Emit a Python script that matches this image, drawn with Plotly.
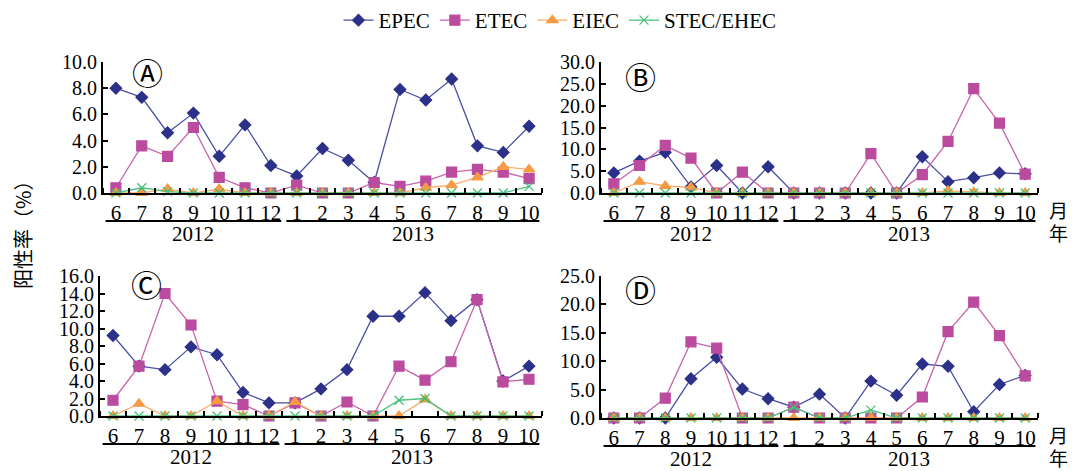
import plotly.graph_objects as go

# ---------------- data ----------------
months = [6, 7, 8, 9, 10, 11, 12, 1, 2, 3, 4, 5, 6, 7, 8, 9, 10]
years = [2012] * 7 + [2013] * 10
series_names = ["EPEC", "ETEC", "EIEC", "STEC/EHEC"]

epec_a = [8.0, 7.3, 4.6, 6.1, 2.8, 5.2, 2.1, 1.3, 3.4, 2.5, 0.8, 7.9, 7.1, 8.7, 3.6, 3.1, 5.1]
etec_a = [0.4, 3.6, 2.8, 5.0, 1.2, 0.4, 0.0, 0.6, 0.0, 0.0, 0.8, 0.5, 0.9, 1.6, 1.8, 1.6, 1.1]
eiec_a = [0.0, 0.0, 0.3, 0.0, 0.3, 0.0, 0.0, 0.0, 0.0, 0.0, 0.0, 0.0, 0.4, 0.6, 1.2, 2.0, 1.8]
stec_a = [0.0, 0.4, 0.1, 0.0, 0.0, 0.0, 0.0, 0.0, 0.0, 0.0, 0.0, 0.0, 0.0, 0.0, 0.0, 0.0, 0.5]

epec_b = [4.6, 7.3, 9.3, 1.4, 6.3, 0.0, 6.0, 0.0, 0.0, 0.0, 0.0, 0.0, 8.3, 2.6, 3.5, 4.6, 4.4]
etec_b = [2.1, 6.3, 10.9, 8.0, 0.0, 4.8, 0.0, 0.0, 0.0, 0.0, 9.0, 0.0, 4.2, 11.8, 23.9, 16.0, 4.3]
eiec_b = [0.0, 2.6, 1.6, 1.3, 0.0, 0.0, 0.0, 0.0, 0.0, 0.0, 0.0, 0.0, 0.0, 0.5, 0.2, 0.0, 0.0]
stec_b = [0.0] * 17

epec_c = [9.2, 5.7, 5.3, 7.9, 7.0, 2.7, 1.5, 1.5, 3.1, 5.3, 11.4, 11.4, 14.1, 10.9, 13.3, 4.0, 5.7]
etec_c = [1.8, 5.7, 14.0, 10.4, 1.7, 1.3, 0.0, 1.5, 0.0, 1.6, 0.0, 5.7, 4.1, 6.2, 13.3, 3.9, 4.2]
eiec_c = [0.0, 1.4, 0.0, 0.0, 1.7, 0.0, 0.0, 1.6, 0.0, 0.0, 0.0, 0.0, 1.9, 0.0, 0.0, 0.0, 0.0]
stec_c = [0.0, 0.0, 0.0, 0.0, 0.0, 0.0, 0.0, 0.0, 0.0, 0.0, 0.0, 1.8, 2.0, 0.0, 0.0, 0.0, 0.0]

epec_d = [0.0, 0.0, 0.0, 6.9, 10.7, 5.1, 3.4, 1.9, 4.2, 0.0, 6.5, 4.0, 9.5, 9.1, 1.1, 5.9, 7.5]
etec_d = [0.0, 0.0, 3.5, 13.4, 12.3, 0.0, 0.0, 1.9, 0.0, 0.0, 0.0, 0.0, 3.7, 15.2, 20.4, 14.5, 7.4]
eiec_d = [0.0] * 17
stec_d = [0.0, 0.0, 0.0, 0.0, 0.0, 0.0, 0.0, 1.9, 0.0, 0.0, 1.4, 0.0, 0.0, 0.0, 0.0, 0.0, 0.0]

panel_labels = ["Ⓐ", "Ⓑ", "Ⓒ", "Ⓓ"]
y_max = [10, 30, 16, 25]
y_step = [2, 5, 2, 5]
y_title = "阳性率（%）"
month_word = "月"
year_word = "年"

# ---------------- style ----------------
W, H = 1072, 471
SERIF = "Liberation Serif, Times New Roman, serif"
CJK = "Noto Sans CJK SC, Noto Sans CJK JP, sans-serif"
colors = ["#2b3088", "#bb4b9f", "#f59b45", "#3fbf74"]
line_colors = ["#4a50a6", "#c864ad", "#f7ae6a", "#4cc482"]
symbols = ["diamond", "square", "triangle-up", "x-thin"]
msize = [9, 10, 10, 9]
XFONT = dict(family=SERIF, size=21, color="black")
YFONT = dict(family=SERIF, size=20, color="black")

def px_x(p):
    return p / W

def px_y(p):
    return 1 - p / H

# panel geometry in pixels: (x0, x1, ytop, ybottom)
geom = [
    (103, 542, 62, 193),
    (601, 1038, 62, 193),
    (100, 542, 276, 416),
    (601, 1038, 276, 418),
]

data = [
    [epec_a, etec_a, eiec_a, stec_a],
    [epec_b, etec_b, eiec_b, stec_b],
    [epec_c, etec_c, eiec_c, stec_c],
    [epec_d, etec_d, eiec_d, stec_d],
]

n = len(months)
xpos = list(range(n))

fig = go.Figure()

for p in range(4):
    xa = "x" if p == 0 else f"x{p+1}"
    ya = "y" if p == 0 else f"y{p+1}"
    for s in range(4):
        fig.add_trace(go.Scatter(
            x=xpos, y=data[p][s], mode="lines+markers",
            name=series_names[s], showlegend=(p == 0),
            line=dict(color=line_colors[s], width=1.3),
            marker=dict(symbol=symbols[s], size=msize[s], color=colors[s],
                        line=dict(color=colors[s], width=1.2)),
            cliponaxis=False, xaxis=xa, yaxis=ya,
        ))

layout = dict()
for p in range(4):
    x0, x1, yt, yb = geom[p]
    xk = "xaxis" if p == 0 else f"xaxis{p+1}"
    yk = "yaxis" if p == 0 else f"yaxis{p+1}"
    ya = "y" if p == 0 else f"y{p+1}"
    xa = "x" if p == 0 else f"x{p+1}"
    layout[xk] = dict(
        domain=[px_x(x0), px_x(x1)], anchor=ya,
        range=[-0.5, n - 0.5], tickmode="array", tickvals=xpos,
        ticktext=[str(m) for m in months], ticks="",
        ticklabelstandoff=0,
        showline=True, linecolor="black", linewidth=2,
        showgrid=False, zeroline=False, fixedrange=True,
        tickfont=XFONT,
        minor=dict(tickmode="array", tickvals=[i - 0.5 for i in range(n + 1)],
                   ticks="inside", ticklen=5, tickwidth=1.5, tickcolor="black",
                   showgrid=False),
    )
    layout[yk] = dict(
        domain=[px_y(yb), px_y(yt)], anchor=xa,
        range=[0, y_max[p]], dtick=y_step[p], tick0=0, tickformat=".1f",
        ticks="inside", ticklen=5, tickwidth=1.5, tickcolor="black",
        showline=True, linecolor="black", linewidth=1.8,
        showgrid=False, zeroline=False, fixedrange=True,
        tickfont=YFONT,
    )

fig.update_layout(**layout)

shapes = []
annotations = []
# year groups: underline + label
for p in range(4):
    x0, x1, yt, yb = geom[p]
    xa = "x" if p == 0 else f"x{p+1}"
    line_y = yb + 28
    lab_y = yb + 41
    for yr in sorted(set(years)):
        idx = [i for i, v in enumerate(years) if v == yr]
        a, b = idx[0] - 0.4, idx[-1] + 0.4
        shapes.append(dict(type="line", xref=xa, yref="paper",
                           x0=a, x1=b, y0=px_y(line_y), y1=px_y(line_y),
                           line=dict(color="black", width=2)))
        annotations.append(dict(xref=xa, yref="paper", x=(idx[0] + idx[-1]) / 2,
                                y=px_y(lab_y), text=str(yr), showarrow=False,
                                font=XFONT,
                                xanchor="center", yanchor="middle"))

# panel letters
letter_pos = [(147, 72), (640, 76), (146, 283), (640, 288)]
for p in range(4):
    lx, ly = letter_pos[p]
    annotations.append(dict(xref="paper", yref="paper", x=px_x(lx), y=px_y(ly),
                            text=panel_labels[p], showarrow=False,
                            font=dict(family=CJK, size=31, color="black"),
                            xanchor="center", yanchor="middle"))

# month / year words at right
for yb in (geom[1][3], geom[3][3]):
    annotations.append(dict(xref="paper", yref="paper", x=px_x(1047), y=px_y(yb + 16),
                            text=month_word, showarrow=False,
                            font=dict(family=CJK, size=19, color="black"),
                            xanchor="left", yanchor="middle"))
    annotations.append(dict(xref="paper", yref="paper", x=px_x(1047), y=px_y(yb + 39),
                            text=year_word, showarrow=False,
                            font=dict(family=CJK, size=19, color="black"),
                            xanchor="left", yanchor="middle"))

# y title
annotations.append(dict(xref="paper", yref="paper", x=px_x(22), y=px_y(230),
                        text=y_title, textangle=-90, showarrow=False,
                        font=dict(family=CJK, size=20, color="black"),
                        xanchor="center", yanchor="middle"))

fig.update_layout(
    width=W, height=H,
    margin=dict(l=0, r=0, t=0, b=0, autoexpand=False),
    paper_bgcolor="white", plot_bgcolor="white",
    shapes=shapes, annotations=annotations,
    legend=dict(orientation="h", x=px_x(560), xanchor="center",
                y=1, yanchor="top",
                font=dict(family=SERIF, size=21, color="black"),
                itemwidth=30, tracegroupgap=0, bgcolor="rgba(0,0,0,0)"),
)

fig.write_html("out.html",
               config={"displayModeBar": False},
               post_script="document.body.style.margin='0px';document.body.style.overflow='hidden';")
